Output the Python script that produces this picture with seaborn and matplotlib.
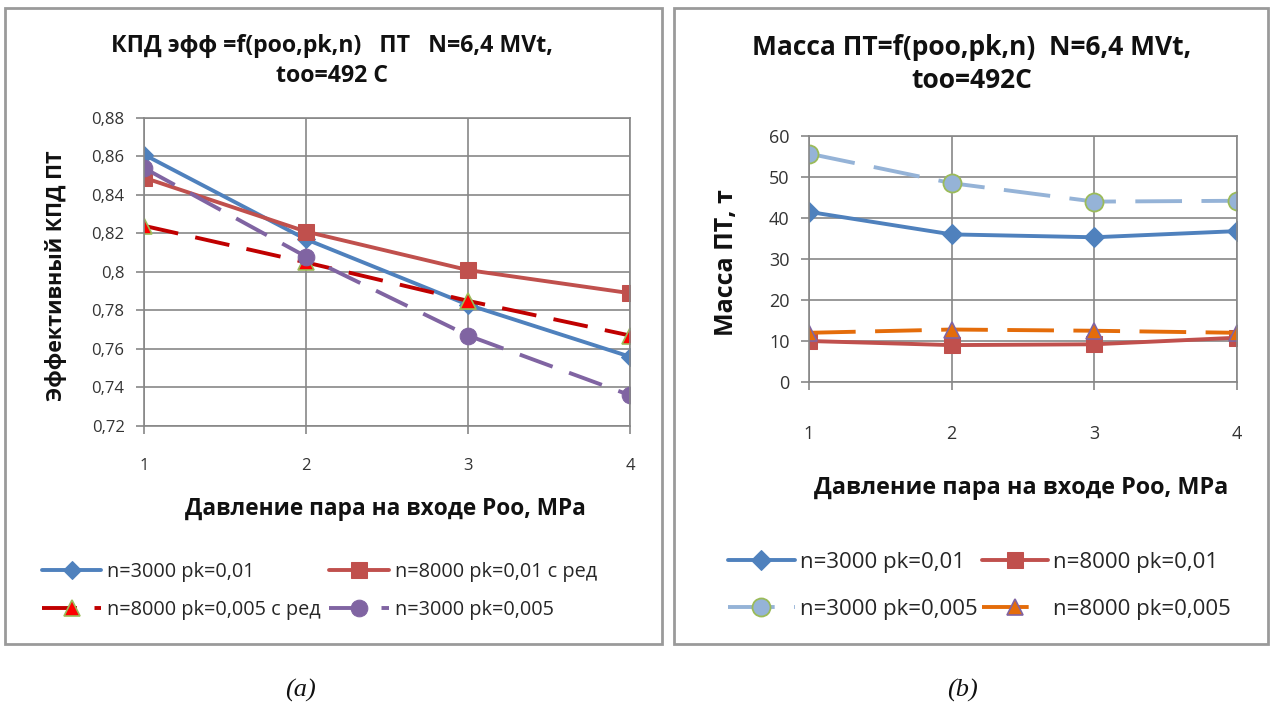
import numpy as np
import pandas as pd
import matplotlib
matplotlib.use("Agg")
import matplotlib.pyplot as plt
import seaborn as sns
from matplotlib.patches import Rectangle
from matplotlib.ticker import FuncFormatter

# --- data ---
pressure = [1, 2, 3, 4]

# (a) effective efficiency
eff_n3000_pk001 = [0.861, 0.817, 0.783, 0.756]
eff_n8000_pk001_red = [0.849, 0.821, 0.801, 0.789]
eff_n8000_pk0005_red = [0.824, 0.805, 0.785, 0.767]
eff_n3000_pk0005 = [0.854, 0.808, 0.767, 0.736]

# (b) turbine mass, t
mass_n3000_pk001 = [41.5, 36.0, 35.3, 36.8]
mass_n8000_pk001 = [10.0, 9.0, 9.2, 10.8]
mass_n3000_pk0005 = [55.7, 48.5, 44.0, 44.2]
mass_n8000_pk0005 = [12.0, 12.8, 12.5, 12.0]

left_title = "КПД эфф =f(poo,pk,n)   ПТ   N=6,4 MVt,\ntoo=492 C"
right_title = "Масса ПТ=f(poo,pk,n)  N=6,4 MVt,\ntoo=492C"
xlabel = "Давление пара на входе Роо, МРа"

sns.set_theme(style="white")
plt.rcParams["font.family"] = ["Open Sans", "DejaVu Sans"]

W, H = 1272, 713
fig = plt.figure(figsize=(W / 100, H / 100), dpi=100)


def fx(px):
    return px / W


def fy(py):
    return 1 - py / H


# panel frames
for x0, x1 in [(5, 662), (674, 1268)]:
    fig.patches.append(Rectangle((fx(x0), fy(644)), fx(x1 - x0), (644 - 8) / H,
                                 transform=fig.transFigure, fill=False,
                                 edgecolor="#9a9a9a", linewidth=2.0))

grid_col = "#878787"
txt_col = "#111111"
comma = FuncFormatter(lambda v, p: f"{v:g}".replace(".", ","))


def style_axes(ax, xpad, ypad, tsize):
    ax.set_xlim(1, 4)
    ax.set_xticks(pressure)
    ax.grid(True, color=grid_col, linewidth=1.2)
    for s in ax.spines.values():
        s.set_color(grid_col)
        s.set_linewidth(1.2)
    ax.tick_params(axis="x", length=6, width=1.2, color=grid_col, direction="out",
                   pad=xpad, labelsize=tsize, labelcolor="#333333", bottom=True)
    ax.tick_params(axis="y", length=6, width=1.2, color=grid_col, direction="out",
                   pad=ypad, labelsize=tsize, labelcolor="#333333", left=True)
    ax.yaxis.set_major_formatter(comma)
    ax.set_xlabel("")
    ax.set_ylabel("")


lw = 2.8

# ---------------- (a) ----------------
axL = fig.add_axes([fx(144), fy(426), fx(486), 308 / H])
sns.lineplot(x=pressure, y=eff_n3000_pk001, ax=axL, color="#4F81BD", lw=lw,
             marker="D", markersize=9, markeredgecolor="#4F81BD", label="n=3000 pk=0,01")
sns.lineplot(x=pressure, y=eff_n8000_pk0005_red, ax=axL, color="#C00000", lw=lw,
             dashes=(9, 4.5), marker="^", markersize=12, markerfacecolor="#FF0000",
             markeredgecolor="#9BBB59", markeredgewidth=1.2, label="n=8000 pk=0,005 с ред")
sns.lineplot(x=pressure, y=eff_n8000_pk001_red, ax=axL, color="#C0504D", lw=lw,
             marker="s", markersize=11, markeredgecolor="#C0504D", label="n=8000 pk=0,01 с ред")
sns.lineplot(x=pressure, y=eff_n3000_pk0005, ax=axL, color="#8064A2", lw=lw,
             dashes=(9, 4.5), marker="o", markersize=12, markeredgecolor="#8064A2",
             label="n=3000 pk=0,005")
axL.set_ylim(0.72, 0.88)
axL.set_yticks(np.arange(0.72, 0.8801, 0.02))
style_axes(axL, 17, 8, 12)
hL, lL = axL.get_legend_handles_labels()
axL.get_legend().remove()
fig.text(fx(332), fy(61), left_title, ha="center", va="center", fontsize=16.7,
         fontweight="bold", linespacing=1.35, color=txt_col)
fig.text(fx(56), fy(276), "Эффективный КПД ПТ", rotation=90, ha="center",
         va="center", fontsize=15.5, fontweight="bold", color=txt_col)
fig.text(fx(385), fy(509), xlabel, ha="center", va="center", fontsize=16.3,
         fontweight="bold", color=txt_col)
fig.legend(hL, lL, loc="upper left", bbox_to_anchor=(fx(24), fy(544)), ncol=2,
           frameon=False, fontsize=14.3, handlelength=3.0, columnspacing=0.4,
           labelspacing=0.9, handletextpad=0.3)

# ---------------- (b) ----------------
axR = fig.add_axes([fx(809), fy(382), fx(428), 246 / H])
sns.lineplot(x=pressure, y=mass_n3000_pk001, ax=axR, color="#4F81BD", lw=lw,
             marker="D", markersize=10, markeredgecolor="#4F81BD", label="n=3000 pk=0,01")
sns.lineplot(x=pressure, y=mass_n3000_pk0005, ax=axR, color="#95B3D7", lw=lw,
             dashes=(12, 5), marker="o", markersize=13, markerfacecolor="#95B3D7",
             markeredgecolor="#9BBB59", markeredgewidth=1.3, label="n=3000 pk=0,005")
sns.lineplot(x=pressure, y=mass_n8000_pk001, ax=axR, color="#C0504D", lw=lw,
             marker="s", markersize=12, markeredgecolor="#C0504D", label="n=8000 pk=0,01")
sns.lineplot(x=pressure, y=mass_n8000_pk0005, ax=axR, color="#E46C0A", lw=lw,
             dashes=(12, 5), marker="^", markersize=12, markerfacecolor="#E46C0A",
             markeredgecolor="#8064A2", markeredgewidth=1.2, label="n=8000 pk=0,005")
axR.set_ylim(0, 60)
axR.set_yticks(np.arange(0, 61, 10))
style_axes(axR, 25, 8, 13)
hR, lR = axR.get_legend_handles_labels()
axR.get_legend().remove()
fig.text(fx(972), fy(64), right_title, ha="center", va="center", fontsize=19,
         fontweight="bold", linespacing=1.25, color=txt_col)
fig.text(fx(726), fy(263), "Масса ПТ, т", rotation=90, ha="center",
         va="center", fontsize=18, fontweight="bold", color=txt_col)
fig.text(fx(1021), fy(488), xlabel, ha="center", va="center", fontsize=16.8,
         fontweight="bold", color=txt_col)
fig.legend(hR, lR, loc="upper left", bbox_to_anchor=(fx(708), fy(532)), ncol=2,
           frameon=False, fontsize=16, handlelength=3.0, columnspacing=0.2,
           labelspacing=1.16, handletextpad=0.22)

# captions
for cx, cap in [(300, "(a)"), (962, "(b)")]:
    fig.text(fx(cx), fy(690), cap, ha="center", va="center", fontsize=19,
             family="Liberation Serif", style="italic", color=txt_col)

fig.savefig("out.png", dpi=100, facecolor="white")
